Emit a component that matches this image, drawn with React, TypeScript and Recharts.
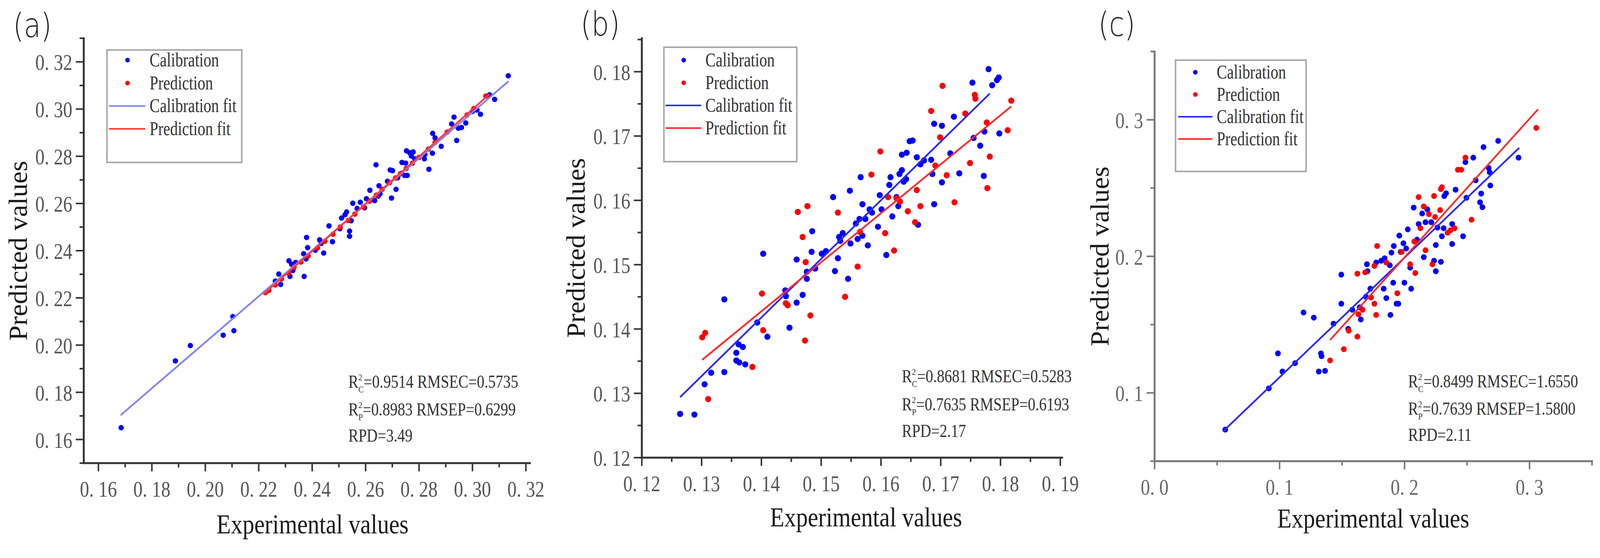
import React from 'react';
import { ScatterChart, Scatter, XAxis, YAxis, Legend, Label, Customized } from 'recharts';

type Pt = { x: number; y: number };

// ---------------- Panel (a) data ----------------
const calA: Pt[] = [
  { x: 0.1685, y: 0.165 }, { x: 0.1888, y: 0.1933 }, { x: 0.1944, y: 0.1998 }, { x: 0.2067, y: 0.2042 },
  { x: 0.2103, y: 0.2121 }, { x: 0.2107, y: 0.2061 }, { x: 0.2262, y: 0.2271 }, { x: 0.2275, y: 0.2301 },
  { x: 0.2282, y: 0.2257 }, { x: 0.2313, y: 0.2357 }, { x: 0.2317, y: 0.2291 }, { x: 0.2323, y: 0.2342 },
  { x: 0.2328, y: 0.2316 }, { x: 0.2338, y: 0.235 }, { x: 0.237, y: 0.2291 }, { x: 0.2368, y: 0.2387 },
  { x: 0.2377, y: 0.2365 }, { x: 0.2379, y: 0.2456 }, { x: 0.2383, y: 0.2413 }, { x: 0.2412, y: 0.2402 },
  { x: 0.2428, y: 0.2446 }, { x: 0.2434, y: 0.2431 }, { x: 0.2443, y: 0.239 }, { x: 0.2463, y: 0.2505 },
  { x: 0.2476, y: 0.2438 }, { x: 0.2504, y: 0.2493 }, { x: 0.251, y: 0.2538 }, { x: 0.2523, y: 0.2552 },
  { x: 0.2529, y: 0.2564 }, { x: 0.254, y: 0.2483 }, { x: 0.254, y: 0.2461 }, { x: 0.2546, y: 0.2527 },
  { x: 0.2552, y: 0.2601 }, { x: 0.2568, y: 0.2579 }, { x: 0.258, y: 0.2605 }, { x: 0.2596, y: 0.2582 },
  { x: 0.2603, y: 0.262 }, { x: 0.2616, y: 0.2656 }, { x: 0.2634, y: 0.2612 }, { x: 0.2639, y: 0.2764 },
  { x: 0.2647, y: 0.2631 }, { x: 0.265, y: 0.2675 }, { x: 0.2654, y: 0.2641 }, { x: 0.2682, y: 0.2694 },
  { x: 0.2692, y: 0.2742 }, { x: 0.2697, y: 0.2623 }, { x: 0.2701, y: 0.2739 }, { x: 0.2714, y: 0.266 },
  { x: 0.272, y: 0.2709 }, { x: 0.2733, y: 0.2727 }, { x: 0.2736, y: 0.2774 }, { x: 0.2746, y: 0.2719 },
  { x: 0.275, y: 0.2771 }, { x: 0.2753, y: 0.2823 }, { x: 0.2756, y: 0.2719 }, { x: 0.2765, y: 0.2815 },
  { x: 0.2771, y: 0.2801 }, { x: 0.2778, y: 0.2818 }, { x: 0.2784, y: 0.2789 }, { x: 0.282, y: 0.2789 },
  { x: 0.2822, y: 0.2808 }, { x: 0.2837, y: 0.2745 }, { x: 0.285, y: 0.2813 }, { x: 0.2851, y: 0.2897 },
  { x: 0.286, y: 0.2878 }, { x: 0.2883, y: 0.2842 }, { x: 0.2922, y: 0.2937 }, { x: 0.2931, y: 0.2966 },
  { x: 0.2941, y: 0.2867 }, { x: 0.2947, y: 0.2919 }, { x: 0.2959, y: 0.2922 }, { x: 0.2975, y: 0.2941 },
  { x: 0.3, y: 0.299 }, { x: 0.3017, y: 0.2996 }, { x: 0.303, y: 0.2978 }, { x: 0.3064, y: 0.306 },
  { x: 0.3083, y: 0.3041 }, { x: 0.3134, y: 0.3141 },
];
const predA: Pt[] = [
  { x: 0.2225, y: 0.2222 }, { x: 0.2238, y: 0.2232 }, { x: 0.2262, y: 0.2255 }, { x: 0.2285, y: 0.228 },
  { x: 0.2312, y: 0.2305 }, { x: 0.2332, y: 0.233 }, { x: 0.2358, y: 0.2352 }, { x: 0.2385, y: 0.2378 },
  { x: 0.242, y: 0.2412 }, { x: 0.2448, y: 0.244 }, { x: 0.2478, y: 0.247 }, { x: 0.2505, y: 0.25 },
  { x: 0.2535, y: 0.2528 }, { x: 0.256, y: 0.2555 }, { x: 0.2592, y: 0.2585 }, { x: 0.2615, y: 0.261 },
  { x: 0.264, y: 0.2635 }, { x: 0.2662, y: 0.266 }, { x: 0.269, y: 0.2688 }, { x: 0.2712, y: 0.2708 },
  { x: 0.273, y: 0.2725 }, { x: 0.2752, y: 0.2748 }, { x: 0.2775, y: 0.277 }, { x: 0.28, y: 0.2795 },
  { x: 0.2835, y: 0.283 }, { x: 0.286, y: 0.2858 }, { x: 0.2905, y: 0.2902 }, { x: 0.298, y: 0.2975 },
  { x: 0.3005, y: 0.3002 }, { x: 0.305, y: 0.3055 },
];
const calFitA: Pt[] = [{ x: 0.1683, y: 0.1703 }, { x: 0.3135, y: 0.3118 }];
const predFitA: Pt[] = [{ x: 0.2217, y: 0.2215 }, { x: 0.3064, y: 0.3063 }];

// ---------------- Panel (b) data ----------------
const calB: Pt[] = [
  { x: 0.1264, y: 0.1268 }, { x: 0.1288, y: 0.1267 }, { x: 0.1305, y: 0.1314 }, { x: 0.1316, y: 0.1332 },
  { x: 0.1338, y: 0.1333 }, { x: 0.1338, y: 0.1446 }, { x: 0.1358, y: 0.1363 }, { x: 0.1358, y: 0.1351 },
  { x: 0.1363, y: 0.1348 }, { x: 0.1362, y: 0.1376 }, { x: 0.1369, y: 0.1372 }, { x: 0.1373, y: 0.1345 },
  { x: 0.1393, y: 0.141 }, { x: 0.141, y: 0.1388 }, { x: 0.1403, y: 0.1517 }, { x: 0.144, y: 0.146 },
  { x: 0.1441, y: 0.1451 }, { x: 0.1447, y: 0.1402 }, { x: 0.1459, y: 0.1508 }, { x: 0.1459, y: 0.1441 },
  { x: 0.1469, y: 0.1453 }, { x: 0.1476, y: 0.1478 }, { x: 0.1476, y: 0.1489 }, { x: 0.1484, y: 0.152 },
  { x: 0.1485, y: 0.1552 }, { x: 0.149, y: 0.1494 }, { x: 0.1501, y: 0.1517 }, { x: 0.1508, y: 0.1521 },
  { x: 0.152, y: 0.1605 }, { x: 0.1523, y: 0.149 }, { x: 0.1528, y: 0.151 }, { x: 0.153, y: 0.1543 },
  { x: 0.1532, y: 0.1537 }, { x: 0.1536, y: 0.1549 }, { x: 0.1545, y: 0.1478 }, { x: 0.1548, y: 0.1615 },
  { x: 0.1549, y: 0.1533 }, { x: 0.1558, y: 0.1564 }, { x: 0.1561, y: 0.154 }, { x: 0.1564, y: 0.1571 },
  { x: 0.1566, y: 0.1636 }, { x: 0.1569, y: 0.1545 }, { x: 0.1569, y: 0.1594 }, { x: 0.1574, y: 0.1571 },
  { x: 0.1578, y: 0.153 }, { x: 0.1581, y: 0.1586 }, { x: 0.1585, y: 0.1581 }, { x: 0.1595, y: 0.1559 },
  { x: 0.1598, y: 0.1608 }, { x: 0.1601, y: 0.1586 }, { x: 0.1609, y: 0.1515 }, { x: 0.1614, y: 0.1624 },
  { x: 0.1616, y: 0.1636 }, { x: 0.1619, y: 0.1575 }, { x: 0.1626, y: 0.1605 }, { x: 0.1629, y: 0.1591 },
  { x: 0.1631, y: 0.1641 }, { x: 0.1635, y: 0.1647 }, { x: 0.1635, y: 0.1671 }, { x: 0.1638, y: 0.1629 },
  { x: 0.1642, y: 0.1633 }, { x: 0.1643, y: 0.1674 }, { x: 0.1648, y: 0.1692 }, { x: 0.1653, y: 0.1693 },
  { x: 0.166, y: 0.1667 }, { x: 0.1662, y: 0.1562 }, { x: 0.1666, y: 0.1656 }, { x: 0.1672, y: 0.1662 },
  { x: 0.1684, y: 0.1663 }, { x: 0.1686, y: 0.1641 }, { x: 0.1689, y: 0.1594 }, { x: 0.1689, y: 0.1719 },
  { x: 0.1702, y: 0.1716 }, { x: 0.1702, y: 0.1628 }, { x: 0.1716, y: 0.1673 }, { x: 0.1722, y: 0.173 },
  { x: 0.1731, y: 0.1642 }, { x: 0.1753, y: 0.1783 }, { x: 0.1755, y: 0.1697 }, { x: 0.1766, y: 0.1685 },
  { x: 0.1772, y: 0.1638 }, { x: 0.1773, y: 0.1707 }, { x: 0.178, y: 0.1804 }, { x: 0.1786, y: 0.1779 },
  { x: 0.1794, y: 0.1787 }, { x: 0.1797, y: 0.1791 }, { x: 0.1798, y: 0.1704 },
];
const predB: Pt[] = [
  { x: 0.1301, y: 0.1387 }, { x: 0.1306, y: 0.1394 }, { x: 0.1311, y: 0.1291 }, { x: 0.1385, y: 0.1341 },
  { x: 0.1401, y: 0.1455 }, { x: 0.1403, y: 0.1398 }, { x: 0.1441, y: 0.144 }, { x: 0.1444, y: 0.1437 },
  { x: 0.1461, y: 0.1582 }, { x: 0.1469, y: 0.1543 }, { x: 0.1473, y: 0.1382 }, { x: 0.1474, y: 0.1504 },
  { x: 0.1477, y: 0.1591 }, { x: 0.1482, y: 0.1421 }, { x: 0.1528, y: 0.1581 }, { x: 0.154, y: 0.145 },
  { x: 0.1561, y: 0.1497 }, { x: 0.1565, y: 0.1551 }, { x: 0.1584, y: 0.164 }, { x: 0.1599, y: 0.1676 },
  { x: 0.1607, y: 0.1549 }, { x: 0.1612, y: 0.1605 }, { x: 0.1622, y: 0.1522 }, { x: 0.1626, y: 0.1603 },
  { x: 0.1632, y: 0.1598 }, { x: 0.1645, y: 0.1583 }, { x: 0.1657, y: 0.1566 }, { x: 0.166, y: 0.1616 },
  { x: 0.1666, y: 0.1591 }, { x: 0.1684, y: 0.1739 }, { x: 0.1691, y: 0.1654 }, { x: 0.1699, y: 0.1698 },
  { x: 0.1703, y: 0.1778 }, { x: 0.171, y: 0.1639 }, { x: 0.1723, y: 0.1597 }, { x: 0.1741, y: 0.1735 },
  { x: 0.1749, y: 0.1658 }, { x: 0.1757, y: 0.1764 }, { x: 0.1758, y: 0.1758 }, { x: 0.1777, y: 0.1721 },
  { x: 0.1778, y: 0.1619 }, { x: 0.1782, y: 0.1668 }, { x: 0.1812, y: 0.1709 }, { x: 0.1818, y: 0.1755 },
];
const calFitB: Pt[] = [{ x: 0.1264, y: 0.1294 }, { x: 0.1782, y: 0.1766 }];
const predFitB: Pt[] = [{ x: 0.1301, y: 0.1352 }, { x: 0.1818, y: 0.1746 }];

// ---------------- Panel (c) data ----------------
const calC: Pt[] = [
  { x: 0.0565, y: 0.0731 }, { x: 0.0914, y: 0.1033 }, { x: 0.0987, y: 0.1289 }, { x: 0.1023, y: 0.1156 },
  { x: 0.1124, y: 0.1218 }, { x: 0.1192, y: 0.1589 }, { x: 0.1274, y: 0.1551 }, { x: 0.1314, y: 0.1156 },
  { x: 0.1331, y: 0.1289 }, { x: 0.1336, y: 0.1269 }, { x: 0.1364, y: 0.1161 }, { x: 0.1432, y: 0.1507 },
  { x: 0.1494, y: 0.1866 }, { x: 0.1494, y: 0.1653 }, { x: 0.1549, y: 0.1469 }, { x: 0.1582, y: 0.1609 },
  { x: 0.1642, y: 0.1627 }, { x: 0.165, y: 0.1538 }, { x: 0.1691, y: 0.1704 }, { x: 0.1699, y: 0.1942 },
  { x: 0.1704, y: 0.1891 }, { x: 0.1726, y: 0.1763 }, { x: 0.1773, y: 0.1955 }, { x: 0.1813, y: 0.1968 },
  { x: 0.1833, y: 0.1763 }, { x: 0.1841, y: 0.1986 }, { x: 0.1854, y: 0.1694 }, { x: 0.1882, y: 0.1935 },
  { x: 0.1887, y: 0.1571 }, { x: 0.1895, y: 0.2027 }, { x: 0.1909, y: 0.1807 }, { x: 0.1914, y: 0.2076 },
  { x: 0.1936, y: 0.1653 }, { x: 0.195, y: 0.1653 }, { x: 0.1958, y: 0.2152 }, { x: 0.1969, y: 0.2032 },
  { x: 0.1991, y: 0.2096 }, { x: 0.1999, y: 0.1807 }, { x: 0.2013, y: 0.2058 }, { x: 0.2026, y: 0.2198 },
  { x: 0.2045, y: 0.1917 }, { x: 0.2053, y: 0.1763 }, { x: 0.2073, y: 0.2357 }, { x: 0.21, y: 0.2122 },
  { x: 0.2113, y: 0.2237 }, { x: 0.2141, y: 0.2314 }, { x: 0.2154, y: 0.1994 }, { x: 0.2168, y: 0.225 },
  { x: 0.2182, y: 0.2344 }, { x: 0.2214, y: 0.225 }, { x: 0.2236, y: 0.1968 }, { x: 0.225, y: 0.1891 },
  { x: 0.225, y: 0.2083 }, { x: 0.2263, y: 0.2211 }, { x: 0.2291, y: 0.196 }, { x: 0.2299, y: 0.2147 },
  { x: 0.2313, y: 0.2206 }, { x: 0.2318, y: 0.2442 }, { x: 0.2332, y: 0.2462 }, { x: 0.2381, y: 0.2237 },
  { x: 0.2381, y: 0.2091 }, { x: 0.2408, y: 0.2488 }, { x: 0.2468, y: 0.2147 }, { x: 0.2487, y: 0.269 },
  { x: 0.2495, y: 0.2429 }, { x: 0.255, y: 0.2723 }, { x: 0.2569, y: 0.2557 }, { x: 0.2613, y: 0.246 },
  { x: 0.2604, y: 0.2396 }, { x: 0.2623, y: 0.236 }, { x: 0.2632, y: 0.28 }, { x: 0.2673, y: 0.2647 },
  { x: 0.2681, y: 0.2616 }, { x: 0.2686, y: 0.2519 }, { x: 0.2749, y: 0.2846 }, { x: 0.2912, y: 0.2723 },
];
const predC: Pt[] = [
  { x: 0.1404, y: 0.1238 }, { x: 0.1514, y: 0.132 }, { x: 0.1554, y: 0.1456 }, { x: 0.1623, y: 0.1412 },
  { x: 0.1623, y: 0.1873 }, { x: 0.1631, y: 0.1576 }, { x: 0.1664, y: 0.1609 }, { x: 0.1685, y: 0.1883 },
  { x: 0.1732, y: 0.1699 }, { x: 0.1759, y: 0.193 }, { x: 0.1759, y: 0.1653 }, { x: 0.1773, y: 0.1571 },
  { x: 0.1781, y: 0.2076 }, { x: 0.1854, y: 0.1955 }, { x: 0.1942, y: 0.173 }, { x: 0.1977, y: 0.2032 },
  { x: 0.2045, y: 0.1942 }, { x: 0.2078, y: 0.2109 }, { x: 0.2086, y: 0.1878 }, { x: 0.2113, y: 0.2434 },
  { x: 0.2127, y: 0.2206 }, { x: 0.2154, y: 0.2365 }, { x: 0.2168, y: 0.2045 }, { x: 0.2195, y: 0.2309 },
  { x: 0.2223, y: 0.1942 }, { x: 0.2236, y: 0.2442 }, { x: 0.2244, y: 0.2288 }, { x: 0.2285, y: 0.2339 },
  { x: 0.2291, y: 0.2493 }, { x: 0.2299, y: 0.2506 }, { x: 0.2345, y: 0.2173 }, { x: 0.2367, y: 0.2191 },
  { x: 0.24, y: 0.2206 }, { x: 0.2427, y: 0.2634 }, { x: 0.2454, y: 0.2634 }, { x: 0.2487, y: 0.2723 },
  { x: 0.2536, y: 0.2268 }, { x: 0.3054, y: 0.2941 },
];
const calFitC: Pt[] = [{ x: 0.0551, y: 0.0721 }, { x: 0.2918, y: 0.2795 }];
const predFitC: Pt[] = [{ x: 0.1404, y: 0.1387 }, { x: 0.3068, y: 0.3077 }];

// ---------------- Ticks & labels ----------------
const xMajorA = [0.16, 0.18, 0.2, 0.22, 0.24, 0.26, 0.28, 0.3, 0.32];
const xMinorA = [0.17, 0.19, 0.21, 0.23, 0.25, 0.27, 0.29, 0.31];
const xLabelsA = ['0. 16', '0. 18', '0. 20', '0. 22', '0. 24', '0. 26', '0. 28', '0. 30', '0. 32'];
const yMajorA = [0.16, 0.18, 0.2, 0.22, 0.24, 0.26, 0.28, 0.3, 0.32];
const yMinorA = [0.15, 0.17, 0.19, 0.21, 0.23, 0.25, 0.27, 0.29, 0.31, 0.33];
const yLabelsA = ['0. 16', '0. 18', '0. 20', '0. 22', '0. 24', '0. 26', '0. 28', '0. 30', '0. 32'];

const xMajorB = [0.12, 0.13, 0.14, 0.15, 0.16, 0.17, 0.18, 0.19];
const xMinorB = [0.125, 0.135, 0.145, 0.155, 0.165, 0.175, 0.185];
const xLabelsB = ['0. 12', '0. 13', '0. 14', '0. 15', '0. 16', '0. 17', '0. 18', '0. 19'];
const yMajorB = [0.12, 0.13, 0.14, 0.15, 0.16, 0.17, 0.18];
const yMinorB = [0.125, 0.135, 0.145, 0.155, 0.165, 0.175, 0.185];
const yLabelsB = ['0. 12', '0. 13', '0. 14', '0. 15', '0. 16', '0. 17', '0. 18'];

const xMajorC = [0, 0.1, 0.2, 0.3];
const xMinorC = [0.05, 0.15, 0.25, 0.35];
const xLabelsC = ['0. 0', '0. 1', '0. 2', '0. 3'];
const yMajorC = [0.1, 0.2, 0.3];
const yMinorC = [0.05, 0.15, 0.25, 0.35];
const yLabelsC = ['0. 1', '0. 2', '0. 3'];

const statsA = ['0.9514', '0.5735', '0.8983', '0.6299', '3.49'];
const statsB = ['0.8681', '0.5283', '0.7635', '0.6193', '2.17'];
const statsC = ['0.8499', '1.6550', '0.7639', '1.5800', '2.11'];

const SERIES = ['Calibration', 'Prediction', 'Calibration fit', 'Prediction fit'];

const SERIF = '"Liberation Serif", "Times New Roman", serif';
const SANS = '"DejaVu Sans", "Noto Sans", sans-serif';

const FIG_W = 4203;
const FIG_H = 1429;
const STAT_SX = 0.86;

// ---------------- Components ----------------
const findIdx = (arr: number[], v: number) => arr.findIndex((m) => Math.abs(m - v) < 1e-9);

const XTick = (props: any) => {
  const { x, y, payload, majors, labels, axisColor, labelColor } = props;
  const idx = findIdx(majors, payload.value);
  const major = idx >= 0;
  return (
    <g>
      <line x1={x} y1={y} x2={x} y2={y + (major ? 21 : 11)} stroke={axisColor} strokeWidth={4} />
      {major && (
        <text
          transform={`translate(${x},${y + 86}) scale(0.87,1)`}
          textAnchor="middle"
          fontFamily={SERIF}
          fontSize={56}
          fill={labelColor}
        >
          {labels[idx]}
        </text>
      )}
    </g>
  );
};

const YTick = (props: any) => {
  const { x, y, payload, majors, labels, axisColor, labelColor } = props;
  const idx = findIdx(majors, payload.value);
  const major = idx >= 0;
  return (
    <g>
      <line x1={x} y1={y} x2={x - (major ? 21 : 11)} y2={y} stroke={axisColor} strokeWidth={4} />
      {major && (
        <text
          transform={`translate(${x - 30},${y + 21}) scale(0.87,1)`}
          textAnchor="end"
          fontFamily={SERIF}
          fontSize={56}
          fill={labelColor}
        >
          {labels[idx]}
        </text>
      )}
    </g>
  );
};

const LegendBox = (props: any) => {
  const { payload, cfg } = props;
  const items = [...(payload || [])].sort(
    (a: any, b: any) => SERIES.indexOf(a.value) - SERIES.indexOf(b.value)
  );
  const b = 4;
  return (
    <div
      style={{
        width: cfg.w,
        height: cfg.h,
        boxSizing: 'border-box',
        border: `${b}px solid #a8a8a8`,
        background: '#fff',
      }}
    >
      <svg width={cfg.w - 2 * b} height={cfg.h - 2 * b} style={{ display: 'block', overflow: 'visible' }}>
        {items.map((e: any, i: number) => {
          const cy = cfg.first + i * cfg.step - b;
          return (
            <g key={i}>
              {e.type === 'line' ? (
                <line x1={cfg.lx1 - b} x2={cfg.lx2 - b} y1={cy} y2={cy} stroke={e.color} strokeWidth={4} />
              ) : (
                <circle cx={cfg.mx - b} cy={cy} r={6} fill={e.color} />
              )}
              <text
                transform={`translate(${cfg.tx - b},${cy + 16}) scale(0.81,1)`}
                fontFamily={SERIF}
                fontSize={50}
                fill="#333"
              >
                {e.value}
              </text>
            </g>
          );
        })}
      </svg>
    </div>
  );
};

const Decor = (props: any) => {
  const { tag, tagX, tagY, ax, ys, stats } = props;
  const statLine = (y: number, sub: string, a: string, bName: string, bv: string) => (
    <text transform={`translate(${ax},${y}) scale(${STAT_SX},1)`} fontFamily={SERIF} fontSize={46} fill="#333">
      R
      <tspan dy={-19} fontSize={24}>2</tspan>
      <tspan dx={-12} dy={31} fontSize={24}>{sub}</tspan>
      <tspan dy={-12}>{`=${a} ${bName}=${bv}`}</tspan>
    </text>
  );
  return (
    <g>
      <text
        transform={`translate(${tagX},${tagY}) scale(0.85,1)`}
        fontFamily={SANS}
        fontSize={86}
        fontWeight={300}
        fill="#222"
      >
        {tag}
      </text>
      {statLine(ys[0], 'C', stats[0], 'RMSEC', stats[1])}
      {statLine(ys[1], 'P', stats[2], 'RMSEP', stats[3])}
      <text transform={`translate(${ax},${ys[2]}) scale(${STAT_SX},1)`} fontFamily={SERIF} fontSize={46} fill="#333">
        {`RPD=${stats[4]}`}
      </text>
    </g>
  );
};

const dot = (color: string, r: number) => (p: any) =>
  p.cx == null || p.cy == null ? <g /> : <circle cx={p.cx} cy={p.cy} r={r} fill={color} />;
const noDot = () => <g />;

type PanelCfg = {
  left: number;
  width: number;
  marginTop: number;
  marginRight: number;
  yAxisWidth: number;
  xAxisHeight: number;
  xDomain: [number, number];
  yDomain: [number, number];
  xMajor: number[];
  xMinor: number[];
  xLabels: string[];
  yMajor: number[];
  yMinor: number[];
  yLabels: string[];
  axisColor: string;
  labelColor: string;
  cal: Pt[];
  pred: Pt[];
  calFit: Pt[];
  predFit: Pt[];
  calFitColor: string;
  predFitColor: string;
  dotR: number;
  legend: any;
  xTitleDx: number;
  xTitleDy: number;
  yTitleGap: number;
  tag: string;
  tagX: number;
  tagY: number;
  ax: number;
  ys: number[];
  stats: string[];
};

const Panel = ({ c }: { c: PanelCfg }) => {
  return (
    <div style={{ position: 'absolute', left: c.left, top: 0, width: c.width, height: FIG_H }}>
      <ScatterChart
        width={c.width}
        height={FIG_H}
        margin={{ top: c.marginTop, right: c.marginRight, bottom: 0, left: 0 }}
        style={{ overflow: 'visible' }}
      >
        <XAxis
          type="number"
          dataKey="x"
          domain={c.xDomain}
          allowDataOverflow
          ticks={[...c.xMajor, ...c.xMinor]}
          interval={0}
          tickSize={0}
          tickMargin={0}
          tickLine={false}
          height={c.xAxisHeight}
          axisLine={{ stroke: c.axisColor, strokeWidth: 5, strokeLinecap: 'square' }}
          tick={(p: any) => (
            <XTick {...p} majors={c.xMajor} labels={c.xLabels} axisColor={c.axisColor} labelColor={c.labelColor} />
          )}
        >
          <Label
            content={(lp: any) => {
              const vb = lp.viewBox || {};
              const cx = vb.x + vb.width / 2 + c.xTitleDx;
              const by = vb.y + c.xTitleDy;
              return (
                <text
                  transform={`translate(${cx},${by}) scale(0.88,1)`}
                  textAnchor="middle"
                  fontFamily={SERIF}
                  fontSize={70}
                  fill="#1a1a1a"
                >
                  Experimental values
                </text>
              );
            }}
          />
        </XAxis>
        <YAxis
          type="number"
          dataKey="y"
          domain={c.yDomain}
          allowDataOverflow
          ticks={[...c.yMajor, ...c.yMinor]}
          interval={0}
          tickSize={0}
          tickMargin={0}
          tickLine={false}
          width={c.yAxisWidth}
          axisLine={{ stroke: c.axisColor, strokeWidth: 5, strokeLinecap: 'square' }}
          tick={(p: any) => (
            <YTick {...p} majors={c.yMajor} labels={c.yLabels} axisColor={c.axisColor} labelColor={c.labelColor} />
          )}
        >
          <Label
            content={(lp: any) => {
              const vb = lp.viewBox || {};
              const bx = vb.x + vb.width - c.yTitleGap;
              const cy = vb.y + vb.height / 2;
              return (
                <text
                  transform={`translate(${bx},${cy}) rotate(-90)`}
                  textAnchor="middle"
                  fontFamily={SERIF}
                  fontSize={70}
                  fill="#1a1a1a"
                >
                  Predicted values
                </text>
              );
            }}
          />
        </YAxis>
        <Legend
          layout="horizontal"
          verticalAlign="middle"
          align="center"
          wrapperStyle={{ left: c.legend.left, top: c.legend.top, width: c.legend.w, height: c.legend.h }}
          content={(lp: any) => <LegendBox {...lp} cfg={c.legend} />}
        />
        <Scatter
          name={SERIES[0]}
          data={c.cal}
          fill="#0000ff"
          legendType="circle"
          shape={dot('#0000ff', c.dotR)}
          isAnimationActive={false}
        />
        <Scatter
          name={SERIES[1]}
          data={c.pred}
          fill="#ff0000"
          legendType="circle"
          shape={dot('#ff0000', c.dotR)}
          isAnimationActive={false}
        />
        <Scatter
          name={SERIES[2]}
          data={c.calFit}
          fill={c.calFitColor}
          legendType="line"
          line={{ stroke: c.calFitColor, strokeWidth: 4.5 }}
          shape={noDot}
          isAnimationActive={false}
        />
        <Scatter
          name={SERIES[3]}
          data={c.predFit}
          fill={c.predFitColor}
          legendType="line"
          line={{ stroke: c.predFitColor, strokeWidth: 4.5 }}
          shape={noDot}
          isAnimationActive={false}
        />
        <Customized
          component={<Decor tag={c.tag} tagX={c.tagX} tagY={c.tagY} ax={c.ax} ys={c.ys} stats={c.stats} />}
        />
      </ScatterChart>
    </div>
  );
};

const panelA: PanelCfg = {
  left: 0, width: 1460, marginTop: 98, marginRight: 68, yAxisWidth: 220, xAxisHeight: 243,
  xDomain: [0.1545, 0.3215], yDomain: [0.15, 0.33],
  xMajor: xMajorA, xMinor: xMinorA, xLabels: xLabelsA,
  yMajor: yMajorA, yMinor: yMinorA, yLabels: yLabelsA,
  axisColor: '#333', labelColor: '#555',
  cal: calA, pred: predA, calFit: calFitA, predFit: predFitA,
  calFitColor: '#8383ff', predFitColor: '#ff3a3a', dotR: 7,
  legend: { left: 279, top: 126, w: 358, h: 292, first: 28, step: 58.7, mx: 56, lx1: 7, lx2: 103, tx: 114 },
  xTitleDx: 15, xTitleDy: 180, yTitleGap: 149,
  tag: '(a)', tagX: 34, tagY: 95, ax: 915, ys: [993, 1064, 1131], stats: statsA,
};

const panelB: PanelCfg = {
  left: 1440, width: 1420, marginTop: 98, marginRight: 70, yAxisWidth: 246, xAxisHeight: 257,
  xDomain: [0.12, 0.1903], yDomain: [0.12, 0.1852],
  xMajor: xMajorB, xMinor: xMinorB, xLabels: xLabelsB,
  yMajor: yMajorB, yMinor: yMinorB, yLabels: yLabelsB,
  axisColor: '#333', labelColor: '#555',
  cal: calB, pred: predB, calFit: calFitB, predFit: predFitB,
  calFitColor: '#2a2aff', predFitColor: '#ff2a2a', dotR: 8,
  legend: { left: 302, top: 119, w: 353, h: 297, first: 35, step: 58, mx: 54, lx1: 6, lx2: 100, tx: 111 },
  xTitleDx: 37, xTitleDy: 176, yTitleGap: 150,
  tag: '(b)', tagX: 85, tagY: 91, ax: 929, ys: [979, 1051, 1119], stats: statsB,
};

const panelC: PanelCfg = {
  left: 2840, width: 1363, marginTop: 132, marginRight: 21, yAxisWidth: 193, xAxisHeight: 248,
  xDomain: [0, 0.35], yDomain: [0.05, 0.35],
  xMajor: xMajorC, xMinor: xMinorC, xLabels: xLabelsC,
  yMajor: yMajorC, yMinor: yMinorC, yLabels: yLabelsC,
  axisColor: '#777', labelColor: '#666',
  cal: calC, pred: predC, calFit: calFitC, predFit: predFitC,
  calFitColor: '#2a2aff', predFitColor: '#ff2a2a', dotR: 7.5,
  legend: { left: 246, top: 152, w: 347, h: 289, first: 33, step: 57, mx: 54, lx1: 9, lx2: 99, tx: 110 },
  xTitleDx: 0, xTitleDy: 170, yTitleGap: 121,
  tag: '(c)', tagX: 45, tagY: 92, ax: 859, ys: [992, 1062, 1129], stats: statsC,
};

// Fit the fixed-size figure into the visible viewport if it is narrower than the figure.
const viewportFit = () => {
  if (typeof window === 'undefined' || typeof document === 'undefined') return { sx: 1, sy: 1 };
  const cw = document.documentElement.clientWidth || window.innerWidth || FIG_W;
  const ch = document.documentElement.clientHeight || window.innerHeight || FIG_H;
  const sx = cw > 1000 && cw < FIG_W ? cw / FIG_W : 1;
  const sy = ch > 400 && ch < FIG_H ? ch / FIG_H : 1;
  return { sx, sy };
};

export default function App() {
  const { sx, sy } = viewportFit();
  return (
    <div
      style={{
        position: 'absolute',
        left: 0,
        top: 0,
        width: FIG_W,
        height: FIG_H,
        background: '#fff',
        overflow: 'hidden',
        transform: sx !== 1 || sy !== 1 ? `scale(${sx},${sy})` : undefined,
        transformOrigin: '0 0',
      }}
    >
      <Panel c={panelA} />
      <Panel c={panelB} />
      <Panel c={panelC} />
    </div>
  );
}
